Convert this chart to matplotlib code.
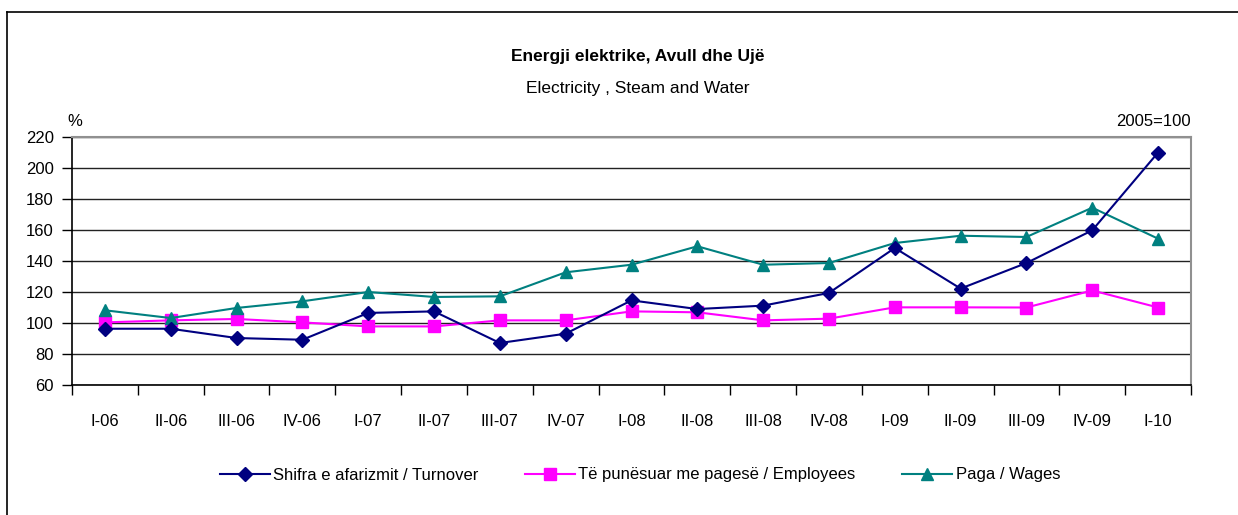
import matplotlib
matplotlib.use("Agg")
from matplotlib import pyplot as plt
from matplotlib.lines import Line2D

plt.rcParams['font.family'] = ['Liberation Sans', 'DejaVu Sans']

quarters = ['I-06', 'II-06', 'III-06', 'IV-06', 'I-07', 'II-07', 'III-07', 'IV-07',
            'I-08', 'II-08', 'III-08', 'IV-08', 'I-09', 'II-09', 'III-09', 'IV-09', 'I-10']
turnover = [96.3, 96.3, 90.3, 89.2, 106.5, 107.5, 87.1, 93.1,
            114.6, 109.0, 111.2, 119.4, 148.4, 122.2, 138.7, 159.8, 210.0]
employees = [100.4, 101.7, 102.6, 100.4, 97.8, 97.8, 101.7, 101.7,
             107.5, 106.9, 101.7, 102.8, 110.1, 110.1, 110.0, 121.0, 110.0]
wages = [108.2, 103.2, 109.7, 114.0, 120.0, 116.8, 117.2, 132.7,
         137.6, 149.5, 137.6, 138.7, 151.6, 156.3, 155.5, 174.4, 154.4]
labels = ['Shifra e afarizmit / Turnover', 'Të punësuar me pagesë / Employees', 'Paga / Wages']

W, H = 1238, 515
fs = 12
fig = plt.figure(figsize=(W / 100, H / 100), dpi=100)
# plot area in pixels: left 72, right 1191, top 137, bottom 385
ax = fig.add_axes([72 / W, 1 - 385 / H, (1191 - 72) / W, (385 - 137) / H])

x = list(range(len(quarters)))
ax.plot(x, turnover, color='#000080', lw=1.5, marker='D', ms=7, label=labels[0], zorder=4)
ax.plot(x, employees, color='#FF00FF', lw=1.5, marker='s', ms=8.5, label=labels[1], zorder=3)
ax.plot(x, wages, color='#008080', lw=1.5, marker='^', ms=9, label=labels[2], zorder=3)

ax.set_xlim(-0.5, len(quarters) - 0.5)
ax.set_ylim(60, 220)
ax.set_yticks(range(60, 221, 20))
ax.set_xticks(x)
ax.set_xticklabels(quarters)
ax.set_xticks([i - 0.5 for i in range(len(quarters) + 1)], minor=True)
ax.tick_params(axis='x', which='major', length=0, pad=21, labelsize=fs)
ax.tick_params(axis='x', which='minor', length=7, width=1, color='black', direction='out')
ax.tick_params(axis='y', length=7, width=1, direction='out', pad=6, labelsize=fs)
ax.yaxis.grid(True, color='#222222', lw=1)
ax.set_axisbelow(True)

for side in ['top', 'right']:
    ax.spines[side].set_color('#909090')
    ax.spines[side].set_linewidth(1.5)
for side in ['left', 'bottom']:
    ax.spines[side].set_color('black')
    ax.spines[side].set_linewidth(1.2)

fig.text(638 / W, 1 - 57 / H, 'Energji elektrike, Avull dhe Ujë', ha='center', va='center',
         fontsize=12.5, fontweight='bold')
fig.text(638 / W, 1 - 88 / H, 'Electricity , Steam and Water', ha='center', va='center', fontsize=12.5)
fig.text(67 / W, 1 - 121 / H, '%', ha='left', va='center', fontsize=fs)
fig.text(1191 / W, 1 - 121 / H, '2005=100', ha='right', va='center', fontsize=fs)

handles = [Line2D([], [], color='#000080', lw=1.5, marker='D', ms=7),
           Line2D([], [], color='#FF00FF', lw=1.5, marker='s', ms=8.5),
           Line2D([], [], color='#008080', lw=1.5, marker='^', ms=9)]
fig.legend(handles, labels, loc='center', bbox_to_anchor=(640 / W, 1 - 475 / H), ncol=3,
           frameon=False, fontsize=fs, handlelength=3.0, handletextpad=0.2, columnspacing=2.8)

# outer frame (only left and top edges visible)
fig.add_artist(Line2D([6.5 / W, 6.5 / W], [0, 1 - 12 / H], color='black', lw=1.2,
                      transform=fig.transFigure))
fig.add_artist(Line2D([6.5 / W, 1], [1 - 12 / H, 1 - 12 / H], color='black', lw=1.2,
                      transform=fig.transFigure))

fig.savefig('out.png', dpi=100)
